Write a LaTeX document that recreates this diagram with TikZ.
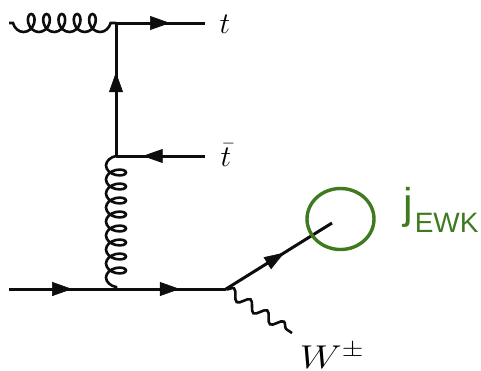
\RequirePackage{fix-cm}
\documentclass[tikz,border=0pt]{standalone}
\usepackage{fontspec}
\newfontfamily\labelsans{Liberation Sans}
\usetikzlibrary{arrows.meta,decorations.pathmorphing,decorations.markings}
\definecolor{jetgreen}{HTML}{3F7A1E}
\tikzset{
  x=1pt,y=-1pt,
  fermion/.style={line width=3pt,color=black!95,
    postaction={decorate,decoration={markings,mark=at position #1 with {\arrow[line width=0.6pt]{Triangle[length=20pt,width=14pt]}}}}},
  gluon/.style={line width=2.6pt,color=black!95,decorate,
    decoration={coil,aspect=#1}},
  boson/.style={line width=2.6pt,color=black!95,decorate,
    decoration={snake,amplitude=5pt,segment length=20pt}},
  mathlabel/.style={inner sep=0pt,font=\fontsize{30}{30}\selectfont},
}
\begin{document}
\begin{tikzpicture}
\useasboundingbox (0,0) rectangle (481,370);
\coordinate (gin) at (9,23);
\coordinate (topv) at (116,23);
\coordinate (tend) at (205,23);
\coordinate (midv) at (116,156);
\coordinate (tbarend) at (205,156);
\coordinate (lowv) at (116,289);
\coordinate (qin) at (9,289);
\coordinate (wv) at (226,289);
\coordinate (jend) at (332,223);
\coordinate (wend) at (292,333);
% fermions
\draw[fermion=0.607] (topv) -- (tend);
\draw[fermion=0.63] (midv) -- (topv);
\draw[fermion=0.70] (tbarend) -- (midv);
\draw[fermion=0.59] (qin) -- (lowv);
\draw[fermion=0.58] (lowv) -- (wv);
\draw[fermion=0.55] (wv) -- (jend);
% gluons
\draw[gluon=0.75,decoration={amplitude=9pt,segment length=15.3pt,pre length=4pt,post length=1pt,mirror}] (gin) -- (topv);
\draw[gluon=0.6,decoration={amplitude=10pt,segment length=14pt,pre length=0pt,post length=0pt,mirror}] (midv) -- (lowv);
% W
\draw[boson] (wv) -- (wend);
% labels
\node[mathlabel] (tl) at (225,24) {$t$};
\node[mathlabel] (tb) at (226,155) {$\bar t$};
\node[mathlabel,font=\fontsize{33}{33}\selectfont,xscale=1.2] (wl) at (332,356) {$W^{\pm}$};
% jet
\draw[jetgreen,line width=3.4pt] (340.5,219) ellipse [x radius=33.5,y radius=30.5];
\node[text=jetgreen,inner sep=0pt,anchor=base west,font=\labelsans\fontsize{43}{43}\selectfont] (jl) at (403,218) {j\kern2pt\raisebox{-14pt}{\fontsize{28}{28}\selectfont EWK}};
\end{tikzpicture}
\end{document}
